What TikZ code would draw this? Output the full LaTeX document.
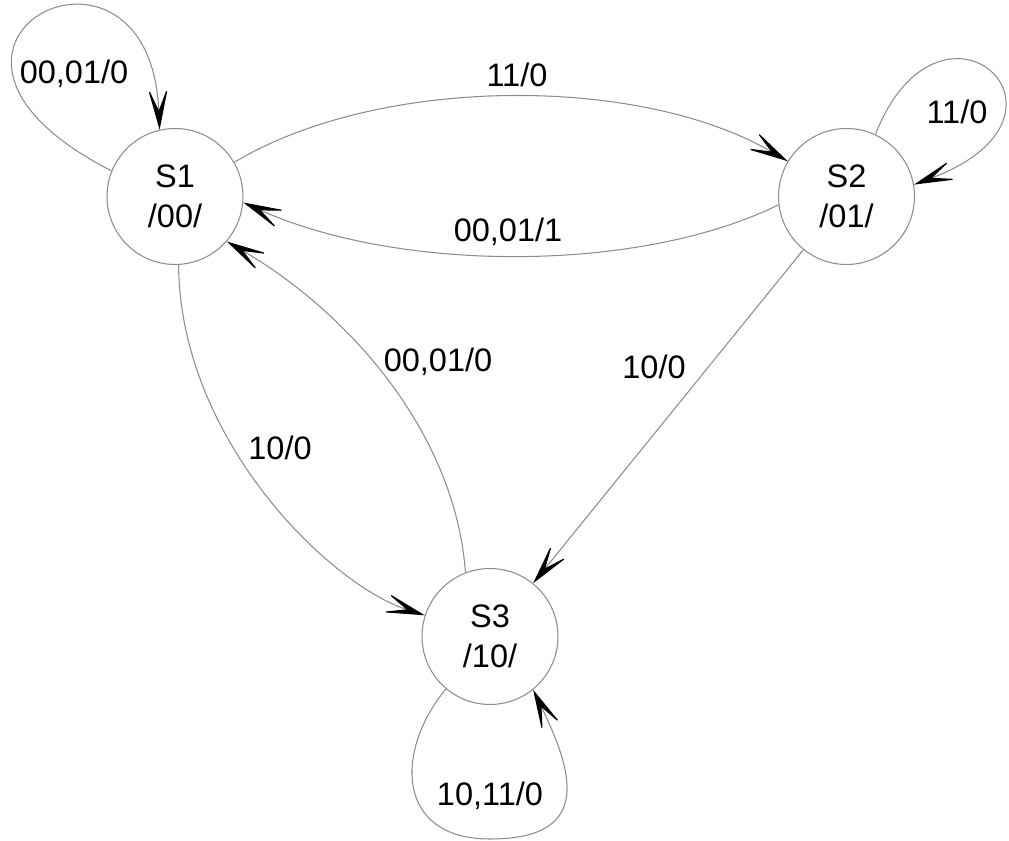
\documentclass[tikz,border=0pt]{standalone}
\usepackage{fontspec}
\setmainfont{Liberation Sans}
\usetikzlibrary{arrows.meta}

\begin{document}
\begin{tikzpicture}[x=0.02cm, y=-0.02cm,
    state/.style={circle, draw=black!45, line width=0.6pt, minimum size=2.72cm, inner sep=0pt, align=center, font=\fontsize{18.5}{22.5}\selectfont},
    lbl/.style={font=\fontsize{18.5}{22.5}\selectfont, inner sep=0pt},
    trans/.style={draw=black!45, line width=0.6pt, -{Stealth[length=25pt, width=12pt, inset=14pt, color=black]}}]
    \useasboundingbox (0,0) rectangle (1009,841);
    \node (S1) [state] at (175,196.5) {S1\\/00/};
    \node (S2) [state] at (846.5,196.5) {S2\\/01/};
    \node (S3) [state] at (490,636.5) {S3\\/10/};
    \node (l11) [lbl] at (74,74) {00,01/0};
    \node (l12) [lbl] at (517,75) {11/0};
    \node (l21) [lbl] at (508,232) {00,01/1};
    \node (l22) [lbl] at (957,112) {11/0};
    \node (l23) [lbl] at (654,367) {10/0};
    \node (l13) [lbl] at (280,448) {10/0};
    \node (l31) [lbl] at (438,362) {00,01/0};
    \node (l33) [lbl] at (490,796) {10,11/0};
    \draw [trans] (S1.158) .. controls (-135,45) and (150,-100) .. (S1.103);
    \draw [trans] (S1.30) .. controls (380,75) and (640,75) .. (S2.149);
    \draw [trans] (S2.187) .. controls (640,273) and (400,273) .. (S1.355);
    \draw [trans] (S2.65) .. controls (940,-30) and (1100,115) .. (S2.10);
    \draw [trans] (S2) -- (S3);
    \draw [trans] (S1.273) .. controls (180,440) and (330,585) .. (S3.162);
    \draw [trans] (S3.111) .. controls (455,430) and (345,310) .. (S1.319);
    \draw [trans] (S3.230) .. controls (395,750) and (395,839) .. (490,839)
        .. controls (595,839) and (572,770) .. (S3.309);
\end{tikzpicture}
\end{document}
